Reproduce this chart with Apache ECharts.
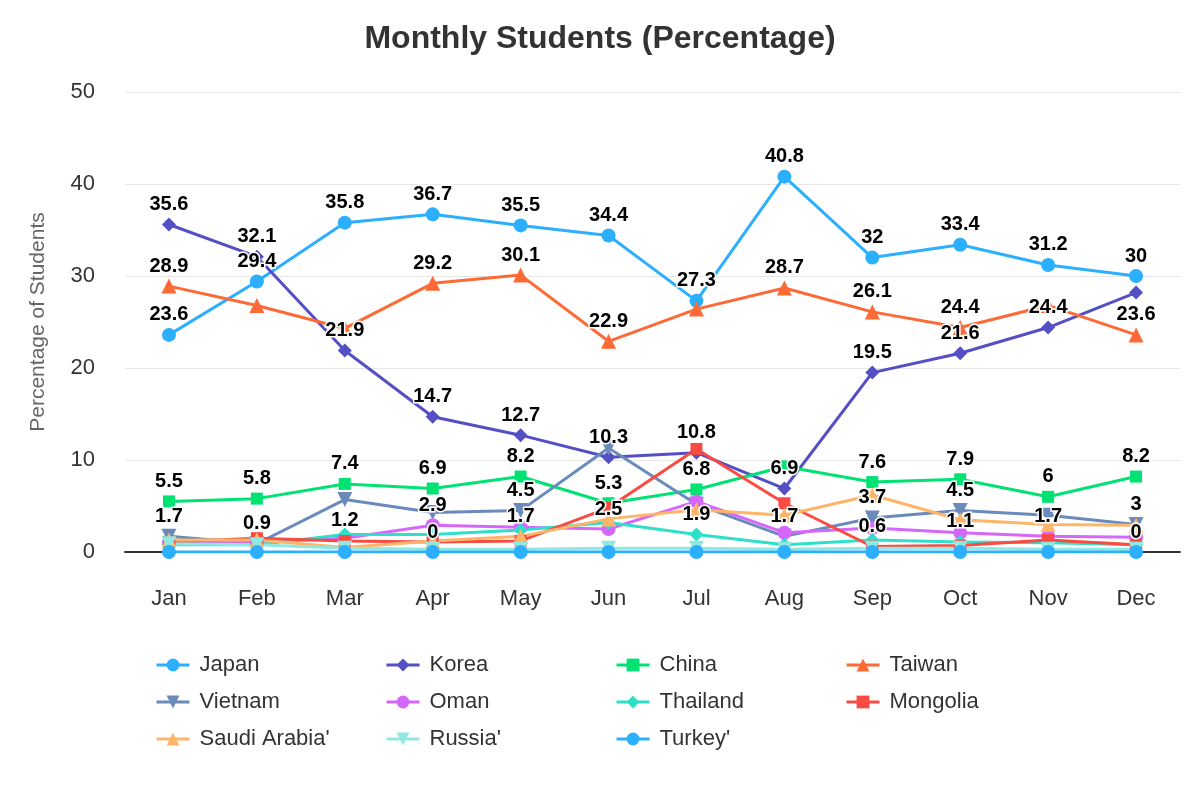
<!DOCTYPE html>
<html>
<head>
<meta charset="utf-8">
<title>Monthly Students (Percentage)</title>
<script src="https://cdn.jsdelivr.net/npm/echarts@6/dist/echarts.min.js"></script>
<style>
	html, body { margin: 0; padding: 0; background: #fff; }
	#chart { width: 1200px; height: 800px; }
</style>
</head>
<body>
<div id="chart"></div>
<script>
"use strict";

// categories
var months = ["Jan","Feb","Mar","Apr","May","Jun","Jul","Aug","Sep","Oct","Nov","Dec"];

// series values (percent of students)
var japan    = [23.6, 29.4, 35.8, 36.7, 35.5, 34.4, 27.3, 40.8, 32, 33.4, 31.2, 30];
var korea    = [35.6, 32.1, 21.9, 14.7, 12.7, 10.3, 10.8, 6.9, 19.5, 21.6, 24.4, 28.2];
var china    = [5.5, 5.8, 7.4, 6.9, 8.2, 5.3, 6.8, 9.3, 7.6, 7.9, 6, 8.2];
var taiwan   = [28.9, 26.8, 24.3, 29.2, 30.1, 22.9, 26.4, 28.7, 26.1, 24.4, 26.8, 23.6];
var vietnam  = [1.7, 0.9, 5.7, 4.3, 4.5, 11.3, 5.2, 1.7, 3.7, 4.5, 4.0, 3];
var oman     = [1.0, 1.1, 1.5, 2.9, 2.7, 2.5, 5.5, 2.1, 2.6, 2.1, 1.7, 1.6];
var thailand = [0.8, 0.8, 1.9, 1.9, 2.4, 3.2, 1.9, 0.8, 1.3, 1.1, 1.0, 0.8];
var mongolia = [1.1, 1.5, 1.2, 1.1, 1.2, 4.8, 11.2, 5.3, 0.6, 0.7, 1.3, 0.8];
var saudi    = [1.3, 1.3, 0.5, 1.2, 1.7, 3.6, 4.6, 4.0, 6.2, 3.5, 3.0, 2.9];
var russia   = [0.9, 0.8, 0.4, 0.3, 0.3, 0.4, 0.4, 0.3, 0.4, 0.4, 0.3, 0.3];
var turkey   = [0, 0, 0, 0, 0, 0, 0, 0, 0, 0, 0, 0];

// months whose value label is printed (the others are hidden by overlap in the original)
var japanLabels    = [0,1,2,3,4,5,6,7,8,9,10,11];
var koreaLabels    = [0,1,2,3,4,5,6,7,8,9,10];
var chinaLabels    = [0,1,2,3,4,5,6,8,9,10,11];
var taiwanLabels   = [0,3,4,5,7,8,9,11];
var vietnamLabels  = [0,1,4,7,8,9,11];
var omanLabels     = [3,5,10];
var thailandLabels = [6,9];
var mongoliaLabels = [2,8];
var saudiLabels    = [4];
var russiaLabels   = [];
var turkeyLabels   = [3,11];

var colors = ["#2caffe","#544fc5","#00e272","#fe6a35","#6b8abc","#d568fb","#2ee0ca","#fa4b42","#feb56a","#91e8e1","#2caffe"];

var seriesList = [
	{ name: "Japan",          values: japan,    labels: japanLabels,    symbol: "circle" },
	{ name: "Korea",          values: korea,    labels: koreaLabels,    symbol: "diamond" },
	{ name: "China",          values: china,    labels: chinaLabels,    symbol: "rect" },
	{ name: "Taiwan",         values: taiwan,   labels: taiwanLabels,   symbol: "triangle" },
	{ name: "Vietnam",        values: vietnam,  labels: vietnamLabels,  symbol: "triangle", rotate: 180 },
	{ name: "Oman",           values: oman,     labels: omanLabels,     symbol: "circle" },
	{ name: "Thailand",       values: thailand, labels: thailandLabels, symbol: "diamond" },
	{ name: "Mongolia",       values: mongolia, labels: mongoliaLabels, symbol: "rect" },
	{ name: "Saudi Arabia'",  values: saudi,    labels: saudiLabels,    symbol: "triangle" },
	{ name: "Russia'",        values: russia,   labels: russiaLabels,   symbol: "triangle", rotate: 180 },
	{ name: "Turkey'",        values: turkey,   labels: turkeyLabels,   symbol: "circle" }
];

var font = "'Liberation Sans', Arial, Helvetica, sans-serif";

// the coloured lines and markers
var series = seriesList.map(function (s, i) {
	return {
		name: s.name,
		type: "line",
		data: s.values,
		symbol: s.symbol,
		symbolSize: s.symbol === "triangle" ? 15 : (s.symbol === "rect" ? 12 : 14),
		symbolRotate: s.rotate || 0,
		showAllSymbol: true,
		lineStyle: { width: 3, color: colors[i] },
		itemStyle: { color: colors[i] },
		emphasis: { disabled: true },
		z: 2
	};
});

// value labels sit in a layer above every line, as in the original
seriesList.forEach(function (s) {
	series.push({
		name: s.name + " labels",
		type: "line",
		data: s.values.map(function (v, j) {
			return { value: v, label: { show: s.labels.indexOf(j) !== -1 } };
		}),
		symbol: "circle",
		symbolSize: 14,
		showAllSymbol: true,
		silent: true,
		lineStyle: { width: 0, opacity: 0 },
		itemStyle: { color: "transparent" },
		label: {
			position: "top",
			distance: 3,
			color: "#000",
			fontSize: 20,
			fontWeight: "bold",
			fontFamily: font,
			textBorderColor: "#fff",
			textBorderWidth: 3
		},
		emphasis: { disabled: true },
		z: 10
	});
});

// legend laid out in four aligned columns, like the original
var legendColumns = [
	["Japan", "Vietnam", "Saudi Arabia'"],
	["Korea", "Oman", "Russia'"],
	["China", "Thailand", "Turkey'"],
	["Taiwan", "Mongolia"]
];
var legends = legendColumns.map(function (names, c) {
	return {
		orient: "vertical",
		left: 155 + c * 230,
		top: 654,
		padding: 0,
		itemGap: 15,
		itemWidth: 33,
		itemHeight: 16,
		data: names,
		lineStyle: { width: 3 },
		textStyle: { fontSize: 22, color: "#333", fontFamily: font, padding: [0, 0, 0, 5] }
	};
});

var chart = echarts.init(document.getElementById("chart"), null, { renderer: "canvas" });
chart.setOption({
	animation: false,
	backgroundColor: "#fff",
	title: {
		text: "Monthly Students (Percentage)",
		left: "center",
		top: 18,
		textStyle: { fontSize: 32, fontWeight: "bold", color: "#333", fontFamily: font }
	},
	legend: legends,
	grid: { left: 125, right: 20, top: 92, bottom: 248 },
	xAxis: {
		type: "category",
		data: months,
		boundaryGap: true,
		axisLine: { lineStyle: { color: "#333", width: 2 } },
		axisTick: { show: false },
		axisLabel: { fontSize: 22, color: "#333", margin: 36, fontFamily: font }
	},
	yAxis: {
		type: "value",
		min: 0,
		max: 50,
		interval: 10,
		name: "Percentage of Students",
		nameLocation: "middle",
		nameGap: 76,
		nameTextStyle: { fontSize: 21, color: "#666", fontFamily: font },
		axisLine: { show: false },
		axisTick: { show: false },
		splitLine: { lineStyle: { color: "#e6e6e6", width: 1 } },
		axisLabel: { fontSize: 22, color: "#333", margin: 30, fontFamily: font }
	},
	series: series
});
</script>
</body>
</html>
